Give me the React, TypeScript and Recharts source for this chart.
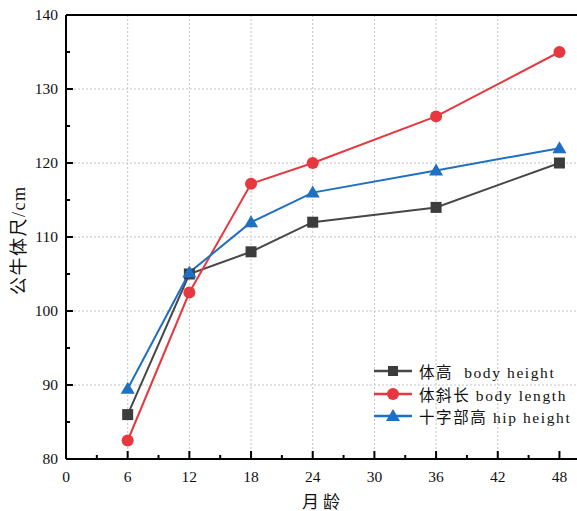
import React from "react";
import {
  LineChart,
  Line,
  XAxis,
  YAxis,
  CartesianGrid,
  ReferenceLine,
} from "recharts";

const months = [6, 12, 18, 24, 36, 48];
const bodyHeight = [86, 105, 108, 112, 114, 120];
const bodyLength = [82.5, 102.5, 117.2, 120, 126.3, 135];
const hipHeight = [89.5, 105.2, 112, 116, 119, 122];

const xTicks = [0, 3, 6, 9, 12, 15, 18, 21, 24, 27, 30, 33, 36, 39, 42, 45, 48];
const yTicks = [80, 85, 90, 95, 100, 105, 110, 115, 120, 125, 130, 135, 140];
const xGrid = [6, 12, 18, 24, 30, 36, 42];
const yGrid = [90, 100, 110, 120, 130];

const seriesNames = ["体高  body height", "体斜长 body length", "十字部高 hip height"];

const GRAY = "#474747";
const RED = "#e8383f";
const BLUE = "#1f6fc2";

const data = months.map((m, i) => ({
  month: m,
  h: bodyHeight[i],
  l: bodyLength[i],
  hip: hipHeight[i],
}));

const FONT = '"Liberation Serif", "DejaVu Serif", "Noto Sans CJK SC", serif';

const Square = (props: any) => {
  const { cx, cy, index } = props;
  return <rect key={`s-${index}`} x={cx - 5.5} y={cy - 5.5} width={11} height={11} fill="#3c3c3c" />;
};
const Circle = (props: any) => {
  const { cx, cy, index } = props;
  return <circle key={`c-${index}`} cx={cx} cy={cy} r={6} fill={RED} />;
};
const Triangle = (props: any) => {
  const { cx, cy, index } = props;
  return (
    <polygon
      key={`t-${index}`}
      points={`${cx},${cy - 7} ${cx - 7},${cy + 5} ${cx + 7},${cy + 5}`}
      fill={BLUE}
    />
  );
};

const YTick = (props: any) => {
  const { x, y, payload } = props;
  const v = payload.value;
  const major = v % 10 === 0;
  const ax = x + 8;
  return (
    <g>
      <line x1={ax} x2={ax + (major ? 7 : 4)} y1={y} y2={y} stroke="#000" strokeWidth={2} />
      {major && (
        <text x={x} y={y} dy={5} textAnchor="end" fontSize={15.5} fontFamily={FONT} fill="#111">
          {v}
        </text>
      )}
    </g>
  );
};

const XTick = (props: any) => {
  const { x, y, payload } = props;
  const v = payload.value;
  const major = v % 6 === 0;
  const ay = y - 6;
  return (
    <g>
      <line x1={x} x2={x} y1={ay} y2={ay - (major ? 8 : 4)} stroke="#000" strokeWidth={2} />
      {major && (
        <text x={x} y={ay} dy={23} textAnchor="middle" fontSize={15.5} fontFamily={FONT} fill="#111">
          {v}
        </text>
      )}
    </g>
  );
};

const LegendBox = () => {
  const colors = [GRAY, RED, BLUE];
  const markers = [
    <rect x={14} y={4} width={10} height={10} fill="#3c3c3c" />,
    <circle cx={19} cy={9} r={6} fill={RED} />,
    <polygon points="19,2 12,14 26,14" fill={BLUE} />,
  ];
  return (
    <div style={{ position: "absolute", left: 374, top: 360, fontFamily: FONT }}>
      {seriesNames.map((n, i) => (
        <div key={n} style={{ display: "flex", alignItems: "center", height: 22.5 }}>
          <svg width={40} height={18} style={{ marginRight: 5 }}>
            <line x1={0} x2={38} y1={9} y2={9} stroke={colors[i]} strokeWidth={2.5} />
            {markers[i]}
          </svg>
          <span style={{ fontSize: 15.5, letterSpacing: 1.6, color: "#111", whiteSpace: "pre" }}>{n}</span>
        </div>
      ))}
    </div>
  );
};

export default function App() {
  return (
    <div style={{ position: "absolute", left: 0, top: 0, width: 577, height: 511, overflow: "hidden", background: "#fff" }}>
      <LineChart width={580} height={511} data={data} margin={{ top: 15, right: 0, left: 0, bottom: 0 }}>
        <CartesianGrid
          stroke="#c4c4c4"
          strokeDasharray="2 2"
          horizontalValues={yGrid}
          verticalValues={xGrid}
        />
        <XAxis
          dataKey="month"
          type="number"
          domain={[0, 50]}
          ticks={xTicks}
          interval={0}
          tickSize={0}
          tickMargin={6}
          tick={<XTick />}
          axisLine={{ stroke: "#000", strokeWidth: 2 }}
          tickLine={false}
          height={52}
          label={{ value: "月龄", position: "insideBottom", offset: 3, fontSize: 17, letterSpacing: 4, fontFamily: FONT, fill: "#111" }}
        />
        <YAxis
          type="number"
          domain={[80, 140]}
          ticks={yTicks}
          interval={0}
          tickSize={0}
          tickMargin={8}
          tick={<YTick />}
          axisLine={{ stroke: "#000", strokeWidth: 2 }}
          tickLine={false}
          width={66}
          label={{
            value: "公牛体尺/cm",
            angle: -90,
            position: "insideLeft",
            offset: 19,
            dy: 58,
            fontSize: 18,
            letterSpacing: 1.5,
            fontFamily: FONT,
            fill: "#111",
          }}
        />
        <ReferenceLine y={140} stroke="#000" strokeWidth={2} />
        <Line dataKey="h" stroke={GRAY} strokeWidth={2} dot={Square} isAnimationActive={false} name={seriesNames[0]} />
        <Line dataKey="l" stroke={RED} strokeWidth={2} dot={Circle} isAnimationActive={false} name={seriesNames[1]} />
        <Line dataKey="hip" stroke={BLUE} strokeWidth={2} dot={Triangle} isAnimationActive={false} name={seriesNames[2]} />
      </LineChart>
      <LegendBox />
    </div>
  );
}
